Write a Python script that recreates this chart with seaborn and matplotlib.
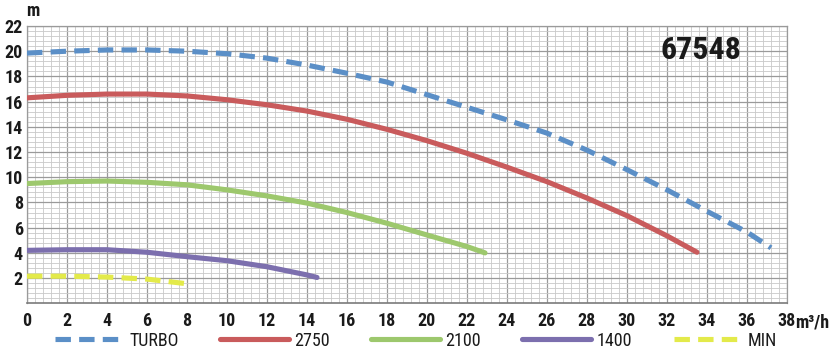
import matplotlib
matplotlib.use("Agg")
import matplotlib.pyplot as plt
from matplotlib import font_manager
from matplotlib.ticker import MultipleLocator
import seaborn as sns
import pandas as pd

# ---- data ----
x_turbo = [0, 2, 4, 6, 8, 10, 12, 14, 16, 18, 20, 22, 24, 26, 28, 30, 32, 34, 36, 37.2]
h_turbo = [19.85, 20.0, 20.1, 20.1, 20.0, 19.8, 19.45, 18.9, 18.25, 17.55, 16.55, 15.55,
           14.55, 13.5, 12.15, 10.6, 9.0, 7.3, 5.65, 4.4]

x_2750 = [0, 2, 4, 6, 8, 10, 12, 14, 16, 18, 20, 22, 24, 26, 28, 30, 32, 33.5]
h_2750 = [16.3, 16.5, 16.6, 16.6, 16.45, 16.15, 15.75, 15.25, 14.6, 13.8, 12.9, 11.9,
          10.8, 9.65, 8.35, 6.95, 5.35, 4.05]

x_2100 = [0, 2, 4, 6, 8, 10, 12, 14, 16, 18, 20, 22, 22.9]
h_2100 = [9.5, 9.65, 9.7, 9.6, 9.4, 9.0, 8.52, 7.95, 7.2, 6.35, 5.42, 4.5, 4.0]

x_1400 = [0, 2, 4, 6, 8, 10, 12, 14, 14.5]
h_1400 = [4.2, 4.25, 4.25, 4.05, 3.7, 3.38, 2.9, 2.25, 2.05]

x_min = [0, 2, 4, 6, 8]
h_min = [2.15, 2.15, 2.08, 1.92, 1.55]

series_names = ["TURBO", "2750", "2100", "1400", "MIN"]
x_ticks = list(range(0, 39, 2))
y_ticks = list(range(2, 23, 2))
title_text = "67548"
y_unit = "m"
x_unit = "m³/h"

# ---- styling ----
colors = ["#5b8fc7", "#c95b5c", "#9dc86d", "#7c6fae", "#e3ea4a"]
dashed = [True, False, False, False, True]

sns.set_theme(style="white")
names = {f.name for f in font_manager.fontManager.ttflist}
fam = None
for cand in ["Liberation Sans Narrow", "Roboto Condensed", "Open Sans Condensed", "Noto Sans Condensed"]:
    if cand in names:
        fam = cand
        break
if fam is None:
    fam = "Liberation Sans"
plt.rcParams["font.family"] = [fam, "DejaVu Sans"]

fig = plt.figure(figsize=(8.31, 3.56), dpi=100)
ax = fig.add_axes([27 / 831, 1 - 303.3 / 356, 760 / 831, 277.3 / 356])

xs = [x_turbo, x_2750, x_2100, x_1400, x_min]
hs = [h_turbo, h_2750, h_2100, h_1400, h_min]
handles = []
for name, xv, hv, c, d in zip(series_names, xs, hs, colors, dashed):
    df = pd.DataFrame({"x": xv, "h": hv})
    n_before = len(ax.lines)
    sns.lineplot(data=df, x="x", y="h", ax=ax, color=c, linewidth=3.7, zorder=3,
                 legend=False)
    ln = ax.lines[n_before]
    ln.set_solid_capstyle("round")
    if d:
        ln.set_dashes((3.0, 1.6))
        ln.set_dash_capstyle("butt")
    ln.set_label(name)
    handles.append(ln)

ax.set_xlim(0, 38)
ax.set_ylim(0, 22)
ax.xaxis.set_major_locator(MultipleLocator(2))
ax.yaxis.set_major_locator(MultipleLocator(2))
ax.xaxis.set_minor_locator(MultipleLocator(0.4))
ax.yaxis.set_minor_locator(MultipleLocator(0.4))
ax.grid(which="major", color="#9a9a9a", linewidth=0.9, zorder=1)
ax.grid(which="minor", color="#c9c9c9", linewidth=0.6, zorder=1)
ax.set_axisbelow(True)

ax.set_xticks(x_ticks)
ax.set_xticklabels([str(t) for t in x_ticks])
ax.set_yticks(y_ticks)
ax.set_yticklabels([str(t) for t in y_ticks])
ax.tick_params(axis="both", which="both", length=0)
ax.tick_params(axis="x", pad=6, labelsize=13)
ax.tick_params(axis="y", pad=3, labelsize=13)
for lab in ax.get_xticklabels() + ax.get_yticklabels():
    lab.set_fontweight("bold")
    lab.set_color("#1a1a1a")
ax.set_xlabel("")
ax.set_ylabel("")

for side in ["top", "right", "left"]:
    ax.spines[side].set_color("#9a9a9a")
    ax.spines[side].set_linewidth(0.9)
ax.spines["bottom"].set_color("#7a7a7a")
ax.spines["bottom"].set_linewidth(1.2)

ax.text(33.7, 20.1, title_text, fontsize=23, fontweight="bold", ha="center",
        va="center", color="#1a1a1a", zorder=5)
fig.text(33 / 831, 1 - 11 / 356, y_unit, fontsize=13, fontweight="bold",
         ha="center", va="center", color="#1a1a1a")
ax.annotate(x_unit, xy=(38, 0), xycoords="data", xytext=(6, -13.5),
            textcoords="offset points", ha="left", va="center",
            fontsize=13, fontweight="bold", color="#1a1a1a", annotation_clip=False)

leg = fig.legend(handles=handles, labels=series_names, loc="center",
                 bbox_to_anchor=(416 / 831, 1 - 340.7 / 356), ncol=5, frameon=False,
                 fontsize=13, handlelength=3.8, handletextpad=0.3, columnspacing=2.3)
for t in leg.get_texts():
    t.set_color("#1a1a1a")

fig.savefig("out.png", dpi=100)
